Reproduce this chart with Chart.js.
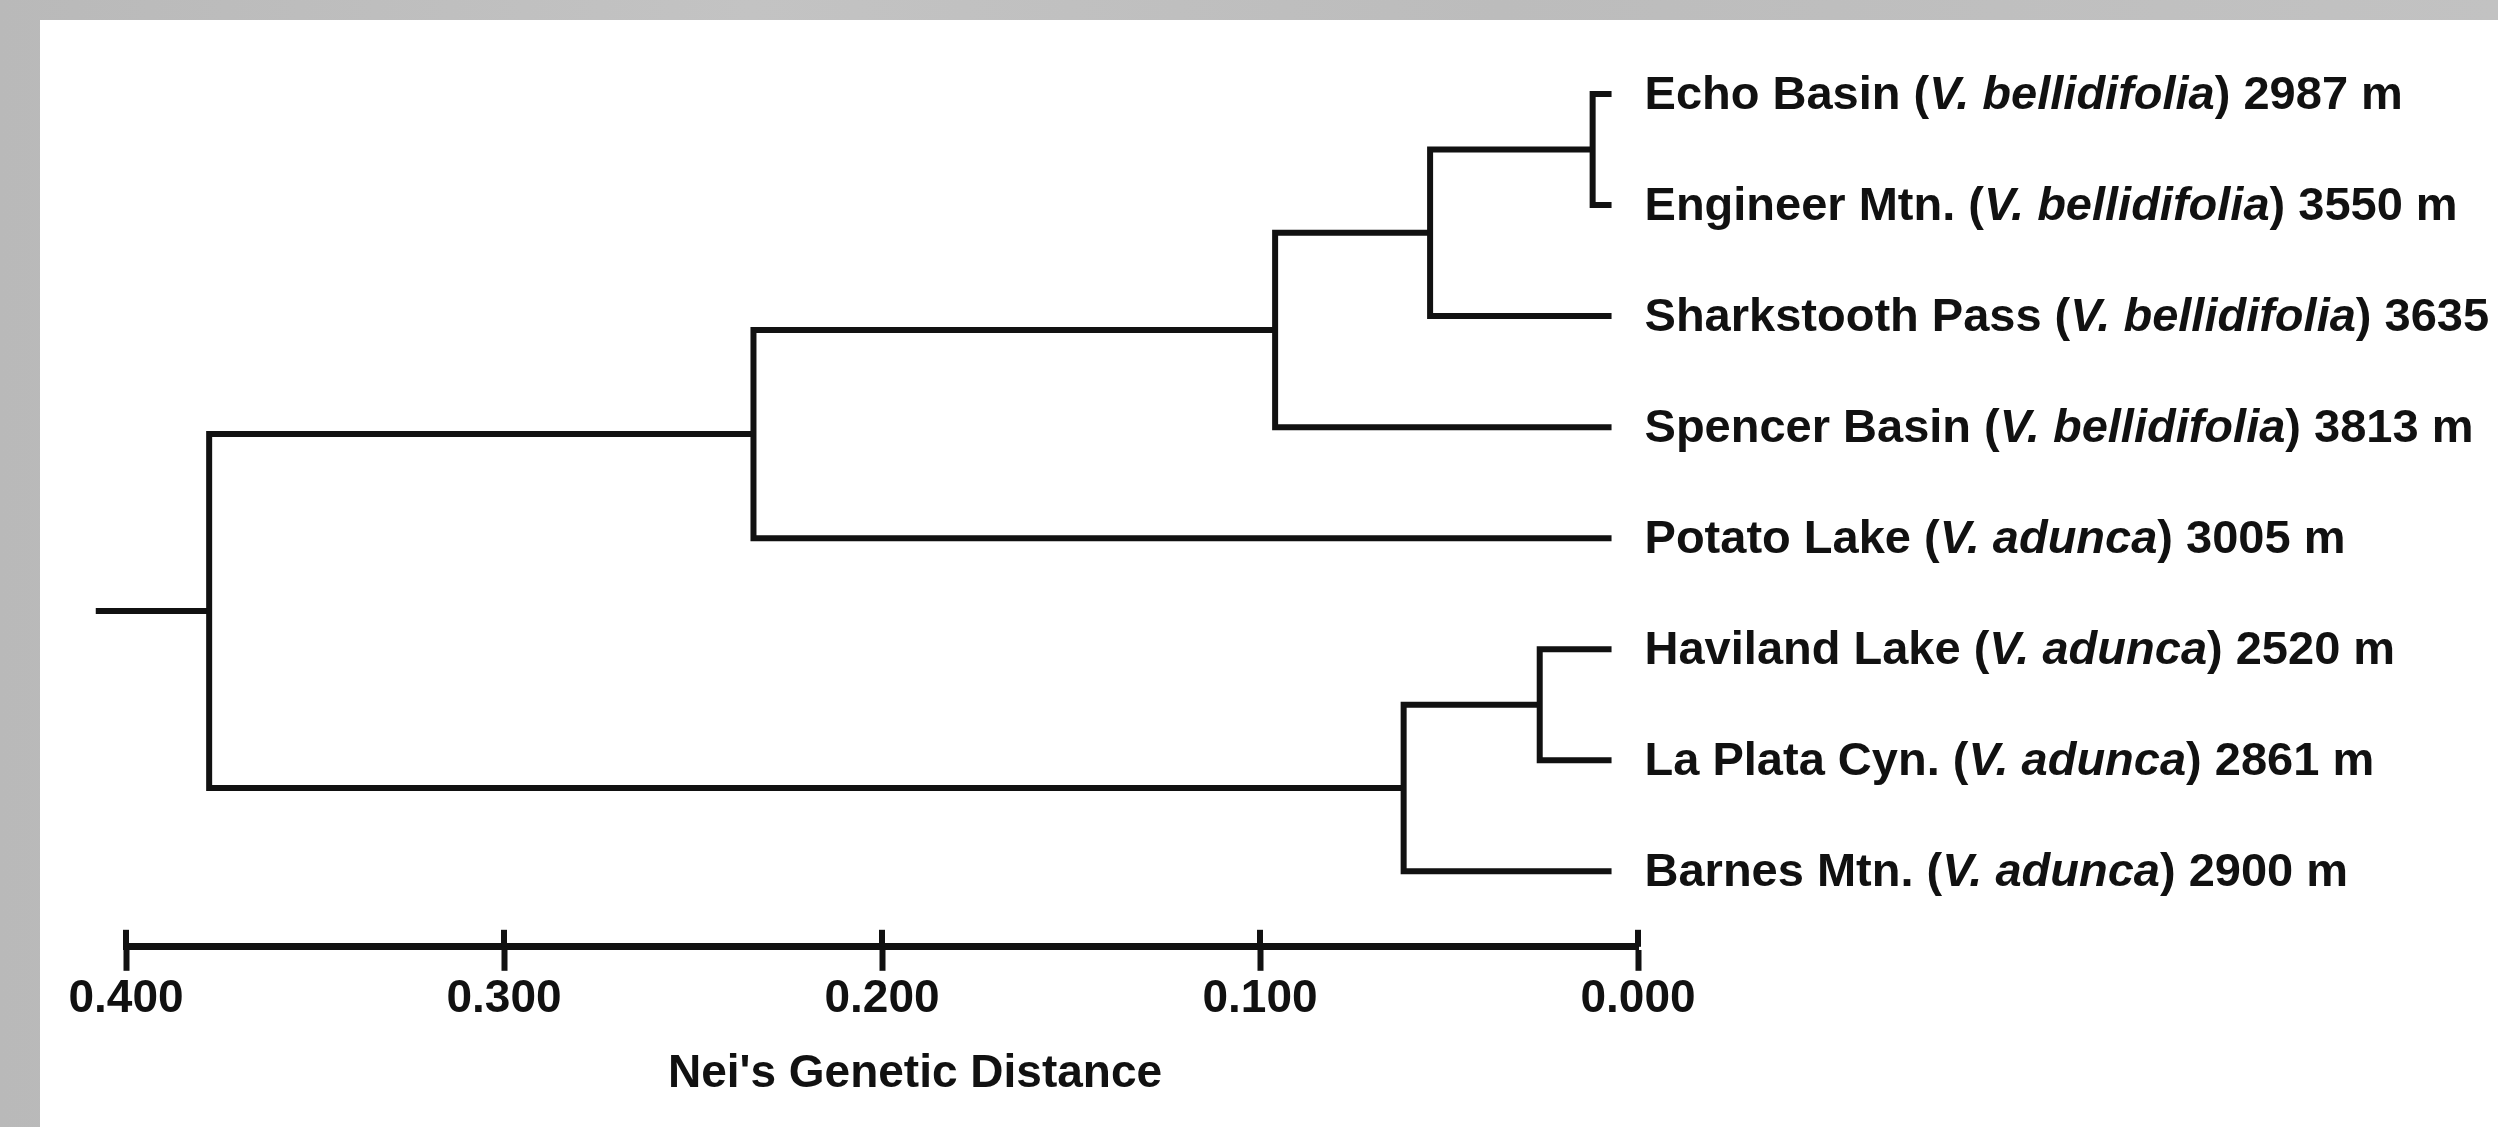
<!DOCTYPE html>
<html>
<head>
<meta charset="utf-8">
<title>Nei's Genetic Distance dendrogram</title>
<script src="https://cdn.jsdelivr.net/npm/chart.js@4.4.1/dist/chart.umd.min.js"></script>
<style>
  html, body { margin: 0; padding: 0; overflow: hidden; }
  #frame { position: absolute; left: 0; top: 0; width: 2498px; height: 1127px;
           background: linear-gradient(90deg, #b9b9b9, #c3c3c3 30%, #bcbcbc 60%, #c2c2c2); }
  #panel { position: absolute; left: 40px; top: 20px; right: 0; bottom: 0; background: #fff; }
  #wrap { position: absolute; left: 0; top: 0; width: 2498px; height: 1127px; }
</style>
</head>
<body>
<div id="frame"><div id="panel"></div></div>
<div id="wrap"><canvas id="myChart"></canvas></div>
<script>
// leaves, top to bottom
const sites = ["Echo Basin", "Engineer Mtn.", "Sharkstooth Pass", "Spencer Basin",
               "Potato Lake", "Haviland Lake", "La Plata Cyn.", "Barnes Mtn."];
const species = ["V. bellidifolia", "V. bellidifolia", "V. bellidifolia", "V. bellidifolia",
                 "V. adunca", "V. adunca", "V. adunca", "V. adunca"];
const elevations = ["2987 m", "3550 m", "3635 m", "3813 m", "3005 m", "2520 m", "2861 m", "2900 m"];

// where the leaf branches stop
const leafTip = 0.007;

// merges: new cluster ids start at 8 (same order as a linkage table)
const mergeLeft = [0, 8, 9, 10, 5, 12, 11];
const mergeRight = [1, 2, 3, 4, 6, 7, 13];
const mergeHeight = [0.012, 0.055, 0.096, 0.234, 0.026, 0.062, 0.378];
const rootStem = 0.408;

const tickValues = [0.4, 0.3, 0.2, 0.1, 0.0];
const axisTitle = "Nei's Genetic Distance";

const ink = "#111";
const fontFamily = "'Liberation Sans', Arial, Helvetica, sans-serif";
Chart.defaults.font.family = fontFamily;

// build the branch polylines from the merge table
let nodeX = [];
let nodeY = [];
for (let i = 0; i < sites.length; i++) {
    nodeX.push(leafTip);
    nodeY.push(i);
}
let datasets = [];
for (let k = 0; k < mergeHeight.length; k++) {
    let a = mergeLeft[k];
    let b = mergeRight[k];
    let h = mergeHeight[k];
    nodeX.push(h);
    nodeY.push((nodeY[a] + nodeY[b]) / 2);
    datasets.push({
        data: [
            { x: nodeX[a], y: nodeY[a] },
            { x: h, y: nodeY[a] },
            { x: h, y: nodeY[b] },
            { x: nodeX[b], y: nodeY[b] },
        ],
    });
}
let root = nodeX.length - 1;
datasets.push({
    data: [{ x: nodeX[root], y: nodeY[root] }, { x: rootStem, y: nodeY[root] }],
});
datasets.forEach(function (d) {
    d.showLine = true;
    d.borderColor = ink;
    d.borderWidth = 6;
    d.pointRadius = 0;
    d.tension = 0;
    d.clip = false;
    d.borderCapStyle = "butt";
    d.borderJoinStyle = "miter";
});

// leaf names, with the species in italics
const leafLabels = {
    id: "leafLabels",
    afterDatasetsDraw(chart) {
        const ctx = chart.ctx;
        const xs = chart.scales.x;
        const ys = chart.scales.y;
        ctx.save();
        ctx.fillStyle = ink;
        ctx.textBaseline = "middle";
        ctx.textAlign = "left";
        for (let i = 0; i < sites.length; i++) {
            let x = xs.getPixelForValue(leafTip) + 33;
            let y = ys.getPixelForValue(i) + 2;
            let parts = [
                [sites[i] + " (", "bold"],
                [species[i], "italic bold"],
                [") " + elevations[i], "bold"],
            ];
            parts.forEach(function (p) {
                ctx.font = p[1] + " 47px " + fontFamily;
                ctx.fillText(p[0], x, y);
                x += ctx.measureText(p[0]).width;
            });
        }
        ctx.restore();
    },
};

// scale bar: ticks cross the bar, and the title sits a bit right of centre
const scaleBarExtras = {
    id: "scaleBarExtras",
    afterDraw(chart) {
        const ctx = chart.ctx;
        const xs = chart.scales.x;
        const bottom = chart.chartArea.bottom;
        ctx.save();
        ctx.strokeStyle = ink;
        ctx.lineWidth = 6;
        tickValues.forEach(function (v) {
            let x = Math.round(xs.getPixelForValue(v));
            ctx.beginPath();
            ctx.moveTo(x, bottom - 17);
            ctx.lineTo(x, bottom);
            ctx.stroke();
        });
        ctx.fillStyle = ink;
        ctx.font = "bold 46px " + fontFamily;
        ctx.textAlign = "center";
        ctx.textBaseline = "middle";
        ctx.fillText(axisTitle, (xs.left + xs.right) / 2 + 33, xs.bottom + 46);
        ctx.restore();
    },
};

const ctx = document.getElementById("myChart").getContext("2d");
const myChart = new Chart(ctx, {
    type: "scatter",
    data: { datasets: datasets },
    plugins: [leafLabels, scaleBarExtras],
    options: {
        responsive: true,
        maintainAspectRatio: false,
        animation: false,
        layout: { padding: { left: 126, right: 860, top: 94, bottom: 99 } },
        plugins: {
            legend: { display: false },
            tooltip: { enabled: false },
        },
        scales: {
            x: {
                type: "linear",
                min: 0,
                max: 0.4,
                reverse: true,
                afterBuildTicks: function (scale) {
                    scale.ticks = tickValues.map(v => ({ value: v }));
                },
                ticks: {
                    color: ink,
                    padding: 1,
                    maxRotation: 0,
                    font: { size: 46, weight: "bold" },
                    callback: v => Number(v).toFixed(3),
                },
                grid: {
                    drawOnChartArea: false,
                    drawTicks: true,
                    tickLength: 24,
                    tickWidth: 6,
                    tickColor: ink,
                },
                border: { display: true, width: 7, color: ink },
                title: { display: false },
            },
            y: {
                type: "linear",
                display: false,
                min: 0,
                max: 7.68,
                reverse: true,
            },
        },
    },
});
</script>
</body>
</html>
